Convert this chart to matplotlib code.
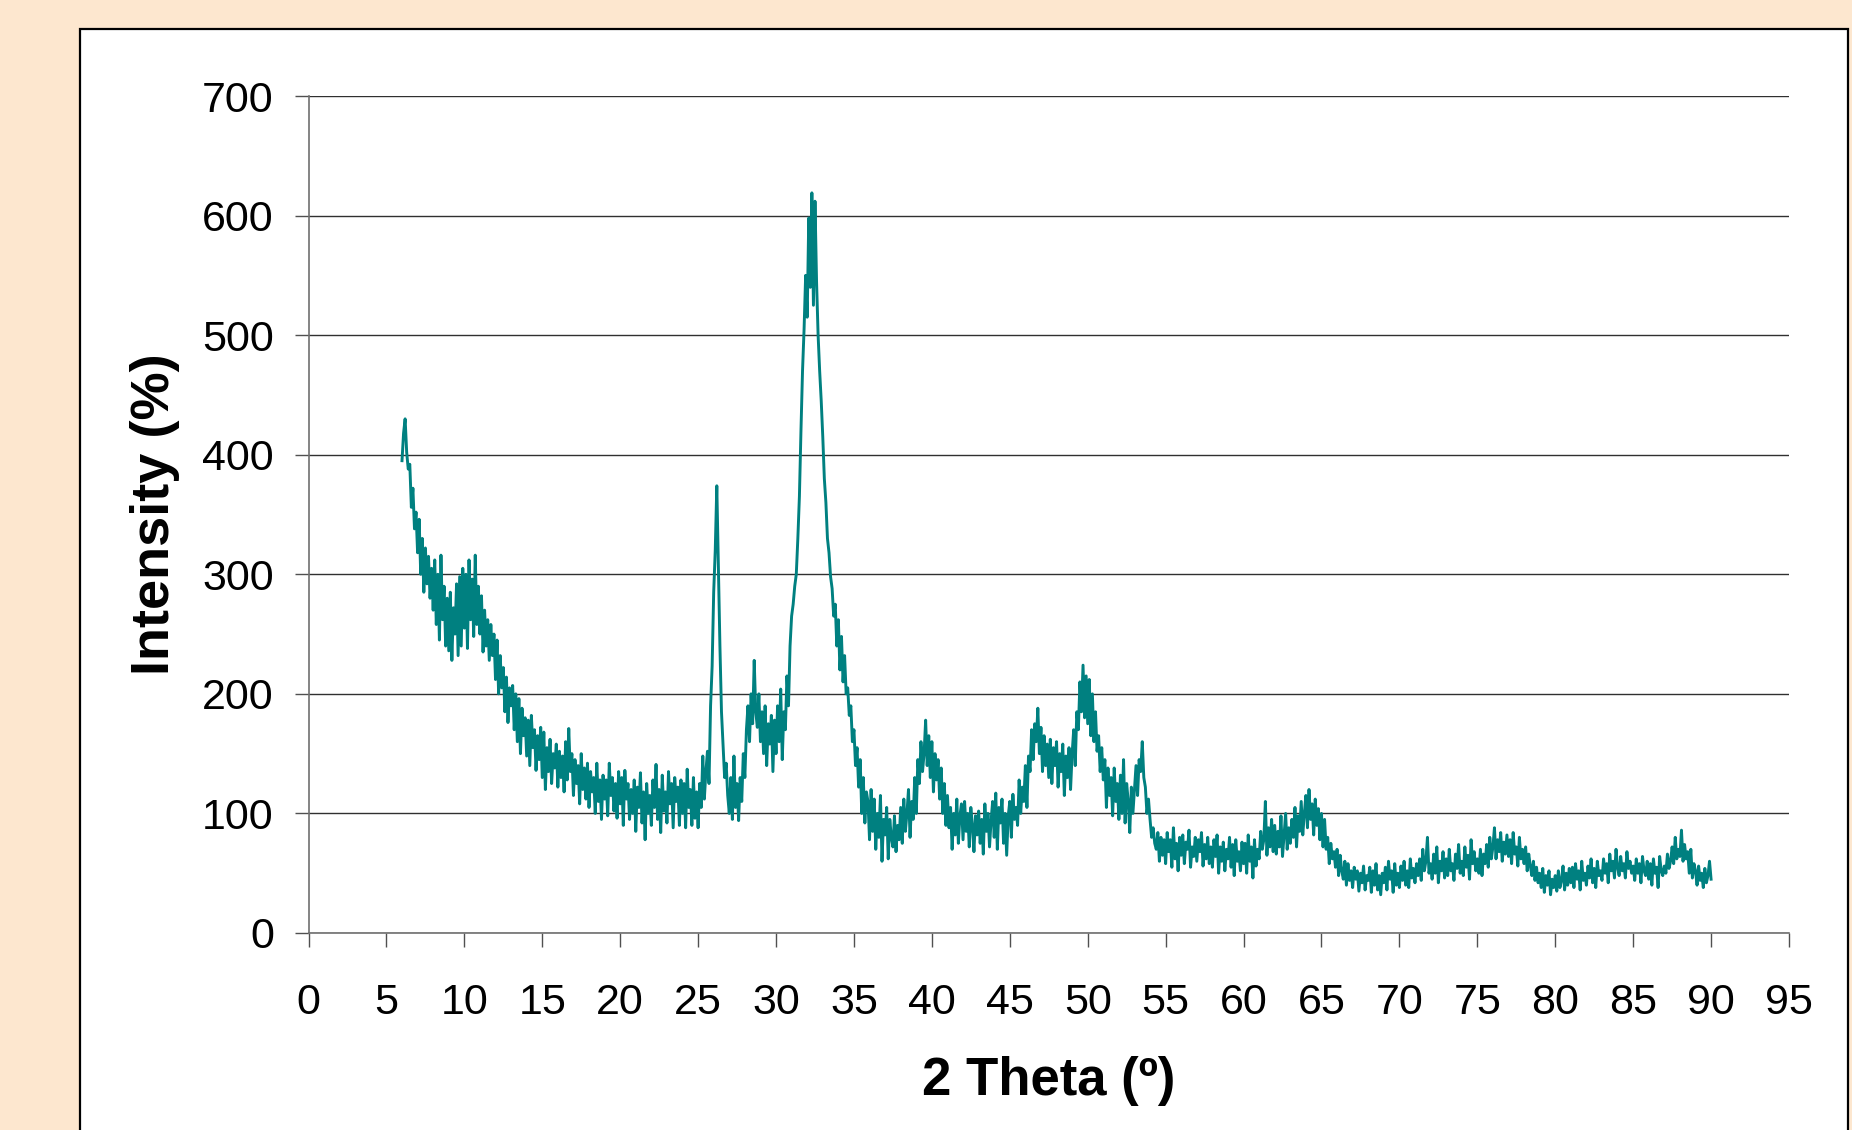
import matplotlib.pyplot as plt
import matplotlib.patches as patches
import numpy as np

plt.rcParams['font.family'] = ['Liberation Sans', 'DejaVu Sans']

# XRD scan, intensity every 0.1 deg (one row per degree)
first_degree = 6
intensity_rows = [
    [395, 418, 430, 402, 388, 392, 356, 372, 338, 352],  # 6
    [318, 346, 300, 330, 285, 322, 292, 315, 280, 305],  # 7
    [270, 312, 258, 300, 245, 316, 262, 290, 240, 280],  # 8
    [236, 285, 228, 272, 250, 292, 232, 298, 240, 305],  # 9
    [255, 300, 238, 312, 262, 296, 248, 316, 258, 290],  # 10
    [250, 282, 235, 270, 240, 262, 228, 258, 232, 250],  # 11
    [212, 245, 200, 232, 205, 222, 185, 214, 176, 205],  # 12
    [190, 207, 170, 200, 160, 196, 150, 188, 165, 180],  # 13
    [148, 178, 140, 182, 155, 170, 136, 165, 145, 172],  # 14
    [130, 168, 120, 155, 135, 162, 125, 150, 138, 158],  # 15
    [122, 152, 130, 148, 118, 160, 128, 171, 135, 150],  # 16
    [115, 145, 125, 140, 108, 150, 120, 138, 112, 142],  # 17
    [105, 135, 118, 130, 100, 142, 110, 128, 95, 132],   # 18
    [112, 128, 98, 142, 115, 130, 102, 125, 96, 135],    # 19
    [108, 130, 90, 136, 112, 125, 95, 120, 100, 128],    # 20
    [85, 122, 105, 134, 92, 118, 78, 125, 100, 115],     # 21
    [90, 128, 105, 141, 95, 120, 84, 132, 102, 118],     # 22
    [92, 135, 108, 125, 88, 130, 110, 122, 90, 128],     # 23
    [100, 125, 88, 137, 105, 120, 90, 130, 96, 118],     # 24
    [88, 125, 105, 148, 112, 135, 152, 125, 190, 223],   # 25
    [285, 320, 374, 305, 240, 185, 158, 130, 142, 115],  # 26
    [100, 130, 95, 148, 105, 125, 94, 130, 110, 150],    # 27
    [130, 170, 190, 160, 200, 175, 228, 185, 172, 200],  # 28
    [160, 185, 150, 190, 140, 175, 158, 182, 135, 178],  # 29
    [150, 190, 160, 204, 145, 185, 170, 215, 190, 240],  # 30
    [265, 275, 290, 300, 330, 365, 420, 470, 505, 550],  # 31
    [515, 598, 540, 619, 525, 612, 545, 500, 470, 445],  # 32
    [415, 380, 360, 330, 318, 298, 288, 265, 275, 240],  # 33
    [262, 220, 248, 210, 232, 200, 205, 182, 190, 160],  # 34
    [170, 140, 155, 122, 145, 100, 130, 92, 118, 110],   # 35
    [78, 120, 85, 112, 70, 100, 80, 115, 60, 95],        # 36
    [82, 105, 62, 95, 80, 72, 98, 68, 90, 78],           # 37
    [105, 75, 112, 85, 100, 120, 80, 110, 95, 130],      # 38
    [100, 145, 125, 160, 135, 150, 178, 140, 165, 130],  # 39
    [160, 118, 150, 128, 145, 112, 138, 100, 125, 90],   # 40
    [115, 88, 105, 70, 100, 82, 112, 75, 98, 108],       # 41
    [78, 110, 85, 100, 72, 105, 90, 68, 98, 82],         # 42
    [102, 75, 95, 66, 108, 85, 100, 72, 94, 110],        # 43
    [80, 117, 70, 105, 92, 112, 75, 100, 65, 98],        # 44
    [110, 80, 116, 95, 105, 90, 128, 100, 122, 110],     # 45
    [140, 105, 148, 135, 170, 145, 175, 160, 188, 150],  # 46
    [172, 135, 165, 140, 158, 130, 162, 125, 155, 140],  # 47
    [160, 122, 150, 135, 158, 115, 148, 130, 155, 120],  # 48
    [150, 170, 140, 185, 170, 210, 185, 224, 180, 215],  # 49
    [175, 212, 165, 200, 160, 185, 152, 165, 135, 155],  # 50
    [128, 145, 105, 138, 115, 130, 98, 138, 110, 125],   # 51
    [95, 132, 100, 145, 92, 125, 110, 84, 122, 100],     # 52
    [120, 140, 115, 145, 135, 160, 130, 122, 100, 112],  # 53
    [95, 80, 88, 75, 70, 84, 60, 80, 65, 78],            # 54
    [58, 84, 68, 78, 55, 88, 62, 75, 52, 80],            # 55
    [65, 82, 58, 76, 70, 86, 55, 72, 64, 80],            # 56
    [60, 78, 68, 84, 56, 74, 62, 80, 58, 72],            # 57
    [55, 78, 64, 82, 50, 72, 60, 76, 52, 70],            # 58
    [62, 80, 55, 74, 48, 78, 60, 68, 52, 76],            # 59
    [58, 75, 50, 82, 60, 72, 46, 78, 56, 70],            # 60
    [62, 85, 70, 78, 110, 65, 88, 72, 95, 68],           # 61
    [90, 66, 85, 72, 98, 64, 82, 100, 70, 88],           # 62
    [75, 95, 80, 105, 72, 98, 85, 110, 82, 100],         # 63
    [115, 88, 120, 95, 108, 82, 112, 90, 104, 78],       # 64
    [100, 72, 95, 70, 80, 58, 75, 62, 68, 55],           # 65
    [70, 48, 65, 52, 45, 60, 40, 58, 44, 52],            # 66
    [38, 55, 45, 52, 35, 50, 42, 56, 36, 48],            # 67
    [44, 55, 34, 52, 40, 58, 36, 48, 32, 50],            # 68
    [42, 55, 36, 60, 45, 52, 34, 58, 40, 50],            # 69
    [38, 56, 44, 60, 40, 52, 38, 62, 46, 54],            # 70
    [42, 58, 48, 62, 44, 70, 52, 60, 80, 50],            # 71
    [58, 45, 66, 50, 72, 42, 60, 52, 68, 46],            # 72
    [62, 48, 70, 52, 58, 44, 66, 54, 74, 50],            # 73
    [60, 48, 72, 55, 65, 45, 78, 58, 68, 52],            # 74
    [62, 50, 70, 48, 66, 58, 74, 55, 80, 62],            # 75
    [72, 88, 62, 78, 68, 84, 60, 76, 66, 82],            # 76
    [64, 78, 58, 84, 66, 72, 56, 80, 62, 70],            # 77
    [58, 72, 52, 66, 56, 48, 60, 44, 55, 42],            # 78
    [50, 38, 54, 34, 48, 40, 52, 32, 45, 38],            # 79
    [48, 35, 52, 38, 44, 56, 36, 50, 40, 54],            # 80
    [42, 55, 38, 58, 45, 52, 36, 60, 44, 50],            # 81
    [40, 56, 46, 62, 42, 54, 38, 60, 48, 52],            # 82
    [44, 62, 50, 58, 42, 66, 52, 60, 46, 70],            # 83
    [55, 48, 64, 52, 58, 46, 68, 54, 60, 50],            # 84
    [56, 44, 62, 50, 58, 42, 64, 52, 48, 60],            # 85
    [45, 58, 40, 62, 50, 55, 38, 64, 52, 48],            # 86
    [56, 50, 66, 54, 60, 72, 58, 80, 62, 70],            # 87
    [64, 86, 60, 74, 62, 68, 50, 70, 46, 58],            # 88
    [52, 40, 56, 44, 50, 38, 54, 42, 48, 60],            # 89
]
last_point = (90.0, 45)

x_ticks = list(range(0, 96, 5))
y_ticks = list(range(0, 701, 100))

two_theta = [first_degree + r + 0.1 * i
             for r, row in enumerate(intensity_rows) for i in range(len(row))]
counts = [v for row in intensity_rows for v in row]
two_theta.append(last_point[0])
counts.append(last_point[1])

W, H = 1852, 1130
fig = plt.figure(figsize=(W / 100, H / 100), dpi=100, facecolor='#FDE7CF')

# white chart panel with black border (runs off the bottom of the image)
panel = patches.Rectangle((80 / W, -0.05), (1848 - 80) / W, 1.05 - 29 / H,
                          transform=fig.transFigure, facecolor='white',
                          edgecolor='black', linewidth=1.6, zorder=-1)
fig.patches.append(panel)

ax = fig.add_axes([308.5 / W, 1 - 933 / H, (1789 - 308.5) / W, (933 - 96) / H])
ax.set_facecolor('none')
ax.set_zorder(1)

ax.plot(two_theta, counts, color='#008080', linewidth=2.1, zorder=3)

ax.set_xlim(0, 95)
ax.set_ylim(0, 700)
ax.set_xticks(x_ticks)
ax.set_yticks(y_ticks)

ax.grid(axis='y', color='#303030', linewidth=1.0)
ax.set_axisbelow(True)

for side in ['top', 'right']:
    ax.spines[side].set_visible(False)
for side in ['left', 'bottom']:
    ax.spines[side].set_color('#707070')
    ax.spines[side].set_linewidth(1.2)

ax.tick_params(axis='both', direction='out', length=10, width=1.0,
               color='#505050', labelsize=31)
ax.tick_params(axis='y', pad=15)
ax.tick_params(axis='x', pad=26)

ax.set_xlabel('2 Theta (º)', fontsize=38, fontweight='bold', va='center')
ax.set_ylabel('Intensity (%)', fontsize=39, fontweight='bold', va='center')
ax.xaxis.set_label_coords(0.5, (933 - 1081) / 837)
ax.yaxis.set_label_coords((155 - 308.5) / 1480.5, 0.5)

plt.savefig('out.png', dpi=100, facecolor=fig.get_facecolor())
